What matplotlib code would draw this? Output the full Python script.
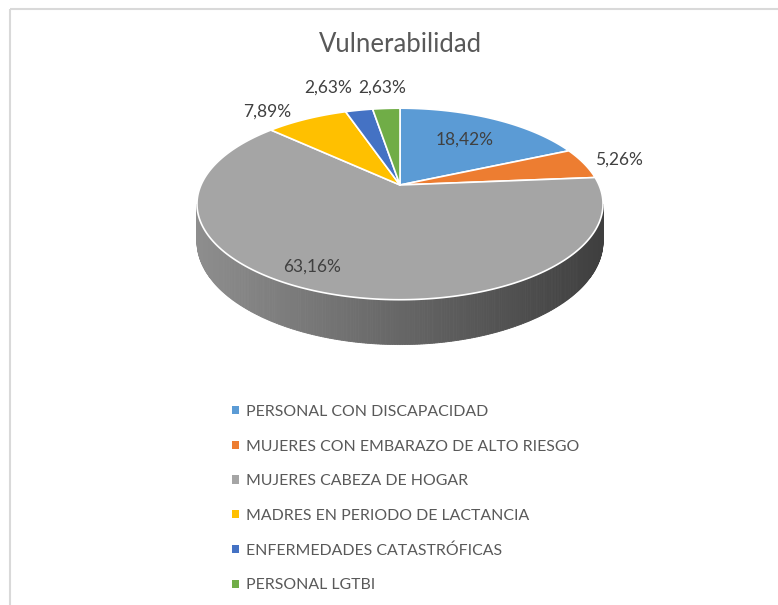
import numpy as np
import matplotlib
matplotlib.use('Agg')
import matplotlib.pyplot as plt
from matplotlib.patches import Polygon, Rectangle, Patch
import matplotlib.colors as mcolors

title = "Vulnerabilidad"
categories = ["PERSONAL CON DISCAPACIDAD", "MUJERES CON EMBARAZO DE ALTO RIESGO",
              "MUJERES CABEZA DE HOGAR", "MADRES EN PERIODO DE LACTANCIA",
              "ENFERMEDADES CATASTRÓFICAS", "PERSONAL LGTBI"]
values = [18.42, 5.26, 63.16, 7.89, 2.63, 2.63]
labels = ["18,42%", "5,26%", "63,16%", "7,89%", "2,63%", "2,63%"]
colors = ["#5B9BD5", "#ED7D31", "#A5A5A5", "#FFC000", "#4472C4", "#70AD47"]

# label layout: (radius factor, angle offset in degrees)
label_layout = [(0.66, 0), (1.2, 0), (0.84, -7.5), (1.23, 7), (1.41, 4.6), (1.34, 0)]

plt.rcParams['font.family'] = ['Lato', 'DejaVu Sans']

W, H = 778, 605
fig = plt.figure(figsize=(W / 100, H / 100), dpi=100)
ax = fig.add_axes([0, 0, 1, 1])
ax.set_xlim(0, W)
ax.set_ylim(H, 0)
ax.axis('off')

# frame
ax.add_patch(Rectangle((10, 9), W + 20, H + 20, fill=False, edgecolor='#d9d9d9', lw=1.5))

cx, cy = 400, 185
A, B, K, D = 199, 92, 0.198, 36


def proj(t, r=1.0, z=0.0):
    u = r * np.cos(t)
    v = r * np.sin(t)
    s = 1 + K * v
    return cx + A * u / s, cy - B * v / s + z * D / s


vals = np.array(values, dtype=float)
cum = np.concatenate([[0], np.cumsum(vals)]) / vals.sum()
starts = np.pi / 2 - 2 * np.pi * cum[:-1]
ends = np.pi / 2 - 2 * np.pi * cum[1:]

# side (visible front range)
vis_lo, vis_hi = -np.pi + np.arcsin(K), -np.arcsin(K)
xl, _ = proj(vis_lo)
xr, _ = proj(vis_hi)
for i in range(len(vals)):
    lo, hi = ends[i], starts[i]
    for sh in (-2 * np.pi, 0, 2 * np.pi):
        a, b = max(lo + sh, vis_lo), min(hi + sh, vis_hi)
        if b <= a:
            continue
        n = max(2, int((b - a) / 0.01))
        ts = np.linspace(a, b, n + 1)
        base = np.array(mcolors.to_rgb(colors[i]))
        light = base * 0.86
        dark = base * 0.38
        for j in range(n):
            t0, t1 = ts[j], ts[j + 1]
            x0, y0 = proj(t0)
            x1, y1 = proj(t1)
            x0b, y0b = proj(t0, z=1)
            x1b, y1b = proj(t1, z=1)
            frac = np.clip(((x0 + x1) / 2 - xl) / (xr - xl), 0, 1)
            c = light * (1 - frac) + dark * frac
            ax.add_patch(Polygon([(x0, y0), (x1, y1), (x1b, y1b), (x0b, y0b)],
                                 closed=True, facecolor=c, edgecolor=c, lw=0.6))

# top faces
for i in range(len(vals)):
    ts = np.linspace(starts[i], ends[i], 200)
    xs, ys = proj(ts)
    pts = [(cx, cy)] + list(zip(xs, ys))
    ax.add_patch(Polygon(pts, closed=True, facecolor=colors[i], edgecolor='white', lw=1.2,
                         joinstyle='round'))

# labels
for i in range(len(vals)):
    mid = (starts[i] + ends[i]) / 2 + np.deg2rad(label_layout[i][1])
    x, y = proj(mid, r=label_layout[i][0])
    ax.text(x, y, labels[i], ha='center', va='center', fontsize=12.5, color='#404040')

ax.text(400, 45, title, ha='center', va='center', fontsize=18.5, color='#595959')

handles = [Patch(facecolor=c, edgecolor='none', label=l) for c, l in zip(colors, categories)]
leg = ax.legend(handles=handles, loc='upper left', bbox_to_anchor=(232 / W, 1 - 405 / H),
                frameon=False, fontsize=11.4, handlelength=0.42, handleheight=0.42,
                handletextpad=0.45, labelspacing=1.30, borderpad=0, borderaxespad=0)
for t in leg.get_texts():
    t.set_color('#595959')

fig.savefig('out.png', dpi=100)
